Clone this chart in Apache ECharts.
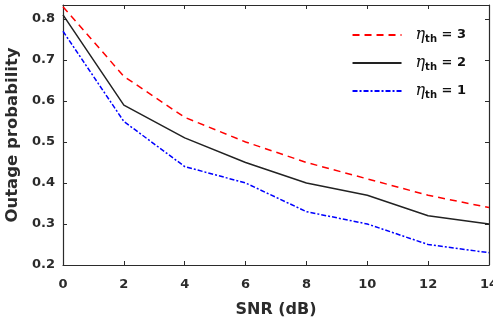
<!DOCTYPE html>
<html>
<head>
<meta charset="utf-8">
<script src="https://cdn.jsdelivr.net/npm/echarts@6/dist/echarts.min.js"></script>
<style>
  html, body { margin: 0; padding: 0; background: #fff; }
  #chart { width: 493px; height: 322px; }
</style>
</head>
<body>
<div id="chart"></div>
<script>
const snr = [0, 2, 4, 6, 8, 10, 12, 14];
const eta3 = [0.83, 0.66, 0.56, 0.50, 0.45, 0.41, 0.37, 0.34];
const eta2 = [0.81, 0.59, 0.51, 0.45, 0.40, 0.37, 0.32, 0.30];
const eta1 = [0.77, 0.55, 0.44, 0.40, 0.33, 0.30, 0.25, 0.23];
const names = ['eta3', 'eta2', 'eta1'];
const nameLabels = { eta3: '3', eta2: '2', eta1: '1' };

const axisColor = '#2b2b2b';
const font = 'DejaVu Sans, sans-serif';

const chart = echarts.init(document.getElementById('chart'));

const pairs = (ys) => snr.map((x, i) => [x, ys[i]]);

const tickStyle = { show: true, inside: true, length: 4, lineStyle: { color: axisColor } };

chart.setOption({
  animation: false,
  grid: { left: 63, right: 4, top: 5, bottom: 57, outerBoundsMode: 'none', containLabel: false },
  legend: {
    right: 22,
    top: 22,
    orient: 'vertical',
    align: 'left',
    itemWidth: 49,
    itemHeight: 14,
    itemGap: 11,
    data: names,
    itemStyle: { opacity: 0 },
    formatter: n => '{e|η}{s|th}{t| = ' + nameLabels[n] + '}',
    textStyle: {
      color: '#111',
      padding: [0, 0, 0, 9],
      rich: {
        e: { fontFamily: 'DejaVu Serif, serif', fontStyle: 'italic', fontSize: 16, color: '#111' },
        s: { fontFamily: font, fontWeight: 'bold', fontSize: 10, padding: [8, 0, 0, 0], color: '#111' },
        t: { fontFamily: font, fontWeight: 'bold', fontSize: 13, color: '#111' }
      }
    }
  },
  xAxis: [{
    type: 'value',
    min: 0, max: 14, interval: 2,
    name: 'SNR (dB)',
    nameLocation: 'middle',
    nameGap: 37,
    nameTextStyle: { fontFamily: font, fontWeight: 'bold', fontSize: 16, color: axisColor },
    axisLine: { show: true, onZero: false, lineStyle: { color: axisColor, width: 1.2 } },
    axisTick: tickStyle,
    splitLine: { show: false },
    axisLabel: { fontFamily: font, fontWeight: 'bold', fontSize: 13, color: axisColor, margin: 13 }
  }, {
    type: 'value', position: 'top',
    min: 0, max: 14, interval: 2,
    axisLine: { show: true, onZero: false, lineStyle: { color: axisColor, width: 1.2 } },
    axisTick: tickStyle,
    splitLine: { show: false },
    axisLabel: { show: false }
  }],
  yAxis: [{
    type: 'value',
    min: 0.2, max: 0.834, interval: 0.1,
    name: 'Outage probability',
    nameLocation: 'middle',
    nameGap: 37,
    nameTextStyle: { fontFamily: font, fontWeight: 'bold', fontSize: 16.5, color: axisColor },
    axisLine: { show: true, onZero: false, lineStyle: { color: axisColor, width: 1.2 } },
    axisTick: tickStyle,
    splitLine: { show: false },
    axisLabel: {
      fontFamily: font, fontWeight: 'bold', fontSize: 13, color: axisColor, margin: 8,
      showMaxLabel: false,
      formatter: v => v.toFixed(1)
    }
  }, {
    type: 'value', position: 'right',
    min: 0.2, max: 0.834, interval: 0.1,
    axisLine: { show: true, onZero: false, lineStyle: { color: axisColor, width: 1.2 } },
    axisTick: tickStyle,
    splitLine: { show: false },
    axisLabel: { show: false }
  }],
  series: [
    {
      name: 'eta3', type: 'line', data: pairs(eta3), symbol: 'none',
      color: '#ff0000',
      lineStyle: { color: '#ff0000', width: 1.5, type: [7, 5] }
    },
    {
      name: 'eta2', type: 'line', data: pairs(eta2), symbol: 'none',
      color: '#222',
      lineStyle: { color: '#222', width: 1.5, type: 'solid' }
    },
    {
      name: 'eta1', type: 'line', data: pairs(eta1), symbol: 'none',
      color: '#0000ff',
      lineStyle: { color: '#0000ff', width: 1.5, type: [5, 2, 2, 2] }
    }
  ]
});
</script>
</body>
</html>
